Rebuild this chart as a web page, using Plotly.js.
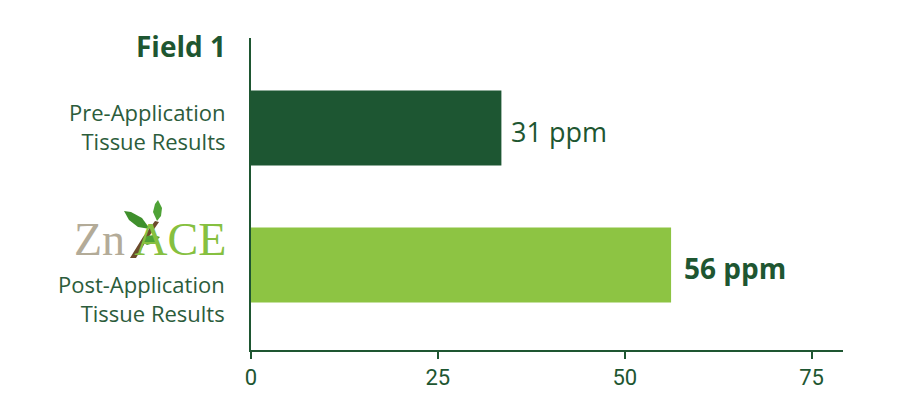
<!DOCTYPE html>
<html>
<head>
<meta charset="utf-8">
<script src="https://cdn.plot.ly/plotly-3.0.1.min.js"></script>
<style>
  html, body { margin: 0; padding: 0; background: #fff; }
  #chart { width: 900px; height: 410px; }
</style>
</head>
<body>
<div id="chart"></div>
<script>
    'use strict';

    // values (axis 0..75)
    var categories = [ 'Pre-Application<br>Tissue Results', 'Post-Application<br>Tissue Results' ];
    var barValues = [ 33.5, 56.2 ];
    var valueLabels = [ '31 ppm', '56 ppm' ];
    var barColors = [ '#1d5632', '#8dc443' ];
    var tickValues = [ 0, 25, 50, 75 ];
    var chartTitle = 'Field 1';

    var green = '#1e5631';
    var labelGreen = '#2c5c3b';
    var font = '"Open Sans", Inter, sans-serif';

    // plot area in pixels: left 251, right 843, top 38, bottom 350
    var px = ( x ) => ( x - 251 ) / 592;
    var py = ( y ) => ( 350 - y ) / 312;
    var pathFrom = ( pts ) => pts.map( ( p, i ) => ( i ? 'L' : 'M' ) + px( p[0] ) + ',' + py( p[1] ) ).join( ' ' ) + ' Z';

    var trace = {
        type: 'bar',
        orientation: 'h',
        y: [ 0, 1 ],
        x: barValues,
        width: 0.547,
        marker: { color: barColors },
        hoverinfo: 'none'
    };

    var annotations = [
        {
            xref: 'paper', yref: 'paper', x: px( 228 ), y: py( 46 ),
            xanchor: 'right', yanchor: 'middle', showarrow: false,
            text: '<b>' + chartTitle + '</b>',
            font: { family: font, size: 28, color: green }
        },
        {
            xref: 'paper', yref: 'y', x: px( 227 ), y: 0, yshift: 2,
            xanchor: 'right', yanchor: 'middle', align: 'right', showarrow: false,
            text: categories[0],
            font: { family: font, size: 22, color: labelGreen }
        },
        {
            xref: 'paper', yref: 'y', x: px( 227 ), y: 1, yshift: -33,
            xanchor: 'right', yanchor: 'middle', align: 'right', showarrow: false,
            text: categories[1],
            font: { family: font, size: 22, color: labelGreen }
        },
        // ZnACE logo as text
        {
            xref: 'paper', yref: 'paper', x: px( 228 ), y: py( 240 ),
            xanchor: 'right', yanchor: 'middle', showarrow: false,
            text: '<span style="color:#b3ab98">Zn</span>&#8201;<span style="color:#86c040">ACE</span>',
            font: { family: '"Liberation Serif", serif', size: 46 }
        }
    ];

    // value labels next to the bar ends
    barValues.forEach( ( v, i ) => {
        annotations.push( {
            xref: 'x', yref: 'y', x: v, y: i, xshift: i === 1 ? 11 : 8, yshift: -3,
            xanchor: 'left', yanchor: 'middle', showarrow: false,
            text: i === 1 ? '<b>' + valueLabels[i] + '</b>' : valueLabels[i],
            font: { family: font, size: i === 1 ? 28 : 27, color: green }
        } );
    } );

    // leaves and stem of the logo
    var shapes = [
        { type: 'path', xref: 'paper', yref: 'paper', fillcolor: '#6b4a2b', line: { width: 0 },
          path: pathFrom( [ [130, 258], [136, 258], [148, 238], [159, 222], [155, 221], [143, 237] ] ) },
        { type: 'path', xref: 'paper', yref: 'paper', fillcolor: '#3f8f2c', line: { width: 0 },
          path: pathFrom( [ [150, 229], [142, 218], [131, 212], [124, 211], [129, 220], [138, 227] ] ) },
        { type: 'path', xref: 'paper', yref: 'paper', fillcolor: '#4ea236', line: { width: 0 },
          path: pathFrom( [ [157, 221], [153, 212], [155, 204], [158, 200], [162, 208], [161, 216] ] ) },
        { type: 'path', xref: 'paper', yref: 'paper', fillcolor: '#4ea236', line: { width: 0 },
          path: pathFrom( [ [142, 242], [147, 236], [154, 235], [160, 237], [154, 243], [147, 245] ] ) }
    ];

    var layout = {
        width: 900,
        height: 410,
        margin: { l: 251, r: 57, t: 38, b: 60 },
        paper_bgcolor: '#ffffff',
        plot_bgcolor: '#ffffff',
        showlegend: false,
        xaxis: {
            range: [ 0, 79.2 ],
            tickvals: tickValues,
            ticktext: tickValues.map( String ),
            ticks: 'outside',
            ticklen: 7,
            tickwidth: 2,
            tickcolor: green,
            showline: true,
            linecolor: green,
            linewidth: 2,
            showgrid: false,
            zeroline: false,
            tickfont: { family: 'Roboto, sans-serif', size: 22, color: green },
            fixedrange: true
        },
        yaxis: {
            range: [ 1.62, -0.657 ],
            showticklabels: false,
            ticks: '',
            showline: true,
            linecolor: green,
            linewidth: 2,
            showgrid: false,
            zeroline: false,
            fixedrange: true
        },
        annotations: annotations,
        shapes: shapes
    };

    Plotly.newPlot( 'chart', [ trace ], layout, { displayModeBar: false, staticPlot: true } );
</script>
</body>
</html>
